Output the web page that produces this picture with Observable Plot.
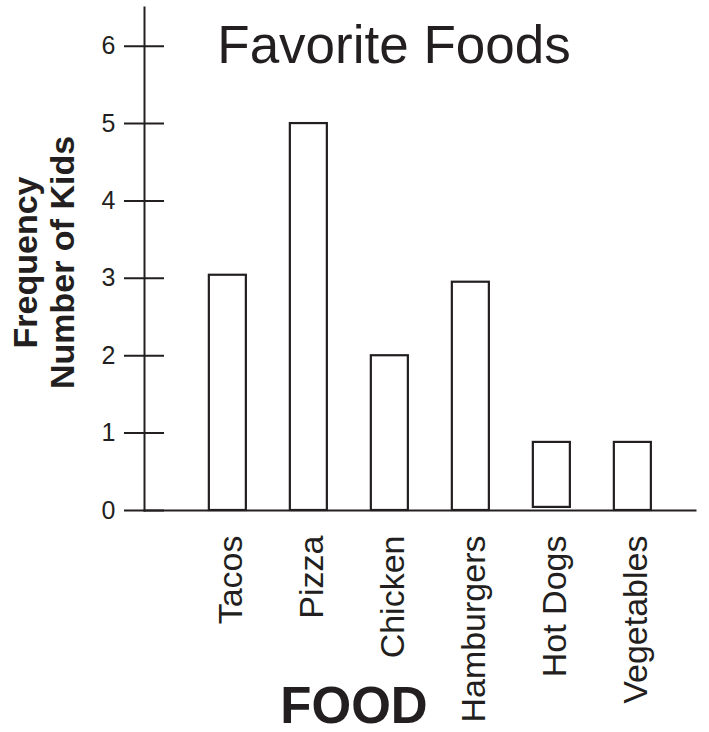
<!DOCTYPE html>
<html>
<head>
<meta charset="utf-8">
<script src="https://cdn.jsdelivr.net/npm/d3@7"></script>
<script src="https://cdn.jsdelivr.net/npm/@observablehq/plot@0.6"></script>
<style>
  html, body { margin: 0; padding: 0; background: #fff; }
  #chart svg { display: block; }
</style>
</head>
<body>
<div id="chart"></div>
<script>
const foods = ["Tacos", "Pizza", "Chicken", "Hamburgers", "Hot Dogs", "Vegetables"];
const kids = [3.04, 5, 2, 2.95, 0.88, 0.88];
const barBase = [0, 0, 0, 0, 0.04, 0];
const yTicks = [0, 1, 2, 3, 4, 5, 6];
const title = "Favorite Foods";
const xTitle = "FOOD";
const yTitle1 = "Frequency";
const yTitle2 = "Number of Kids";

const ink = "#231f20";
const table = foods.map((f, i) => ({food: f, base: barBase[i], value: kids[i]}));

const chart = Plot.plot({
  width: 709,
  height: 732,
  marginLeft: 144,
  marginRight: 14,
  marginTop: 7,
  marginBottom: 222,
  style: {fontFamily: "'Liberation Sans', Arial, sans-serif", background: "#fff", color: ink},
  x: {domain: foods, paddingInner: 0.543, paddingOuter: 0.6727, align: 0.595, round: false, axis: null},
  y: {domain: [0, 6.5], axis: null},
  marks: [
    Plot.barY(table, {x: "food", y1: "base", y2: "value", fill: "#fff", stroke: ink, strokeWidth: 2.2}),
    Plot.frame({anchor: "left", stroke: ink, strokeWidth: 2}),
    Plot.frame({anchor: "bottom", stroke: ink, strokeWidth: 2}),
    Plot.tickY(yTicks, {y: d => d, insetLeft: -20, insetRight: 531, stroke: ink, strokeWidth: 2}),
    Plot.axisY({ticks: yTicks, tickFormat: "d", tickSize: 0, tickPadding: 29, fontSize: 25, fill: ink, label: null}),
    Plot.text(foods, {x: d => d, text: d => d, frameAnchor: "bottom", rotate: -90, textAnchor: "end", lineAnchor: "middle", dy: 25, dx: 3, fontSize: 34, fill: ink}),
    Plot.text([title], {frameAnchor: "top", textAnchor: "middle", lineAnchor: "middle", dx: -26, dy: 39, fontSize: 53, fill: ink}),
    Plot.text([xTitle], {frameAnchor: "bottom", textAnchor: "middle", lineAnchor: "middle", dx: -66, dy: 196, fontSize: 51, fontWeight: "bold", fill: ink}),
    Plot.text([yTitle1], {frameAnchor: "left", rotate: -90, textAnchor: "middle", lineAnchor: "middle", dx: -118, dy: 3.5, fontSize: 34, fontWeight: "bold", fill: ink}),
    Plot.text([yTitle2], {frameAnchor: "left", rotate: -90, textAnchor: "middle", lineAnchor: "middle", dx: -81, dy: 3.5, fontSize: 34, fontWeight: "bold", fill: ink})
  ]
});
document.getElementById("chart").appendChild(chart);
</script>
</body>
</html>
